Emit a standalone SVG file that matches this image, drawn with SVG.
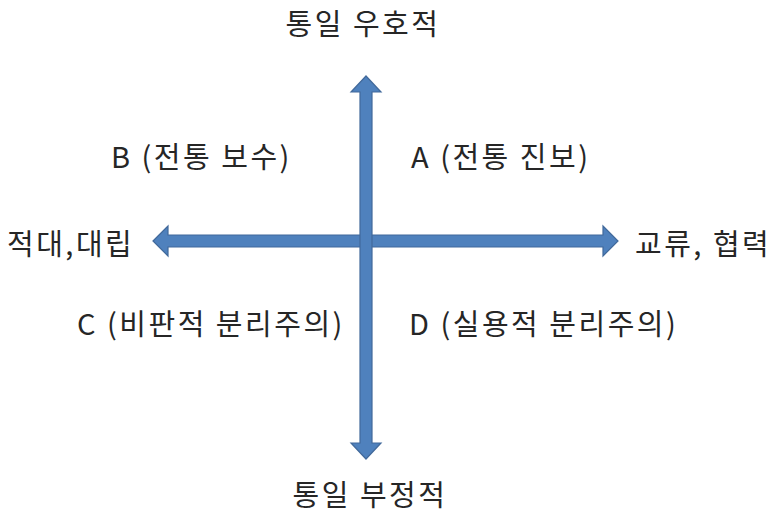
<svg xmlns="http://www.w3.org/2000/svg" width="771" height="514" viewBox="0 0 771 514">
<style>
.t{font-family:"Malgun Gothic","Noto Sans CJK KR","Noto Sans",sans-serif;font-size:29px;letter-spacing:2.5px;fill:#262626}
.arr{fill:#4F81BD;stroke:#41699B;stroke-width:1.2;stroke-linejoin:miter}
</style>
<rect width="771" height="514" fill="#ffffff"/>
<g id="connectors">
<polygon class="arr" points="153,241 168,226 168,235 603,235 603,226 618,241 603,256 603,247 168,247 168,256"/>
<polygon class="arr" points="366,76 381,92 372,92 372,443 381,443 366,459 351,443 360,443 360,92 351,92"/>
</g>
<g id="top"><text class="t" x="363" y="35" text-anchor="middle">통일 우호적</text></g>
<g id="bottom"><text class="t" x="370" y="506" text-anchor="middle">통일 부정적</text></g>
<g id="left"><text class="t" x="7" y="255">적대,대립</text></g>
<g id="right"><text class="t" x="635" y="255">교류, 협력</text></g>
<g id="B"><text class="t" x="111" y="168">B (전통 보수)</text></g>
<g id="A"><text class="t" x="411" y="168">A (전통 진보)</text></g>
<g id="C"><text class="t" x="77" y="335">C (비판적 분리주의)</text></g>
<g id="D"><text class="t" x="409" y="335">D (실용적 분리주의)</text></g>
</svg>
